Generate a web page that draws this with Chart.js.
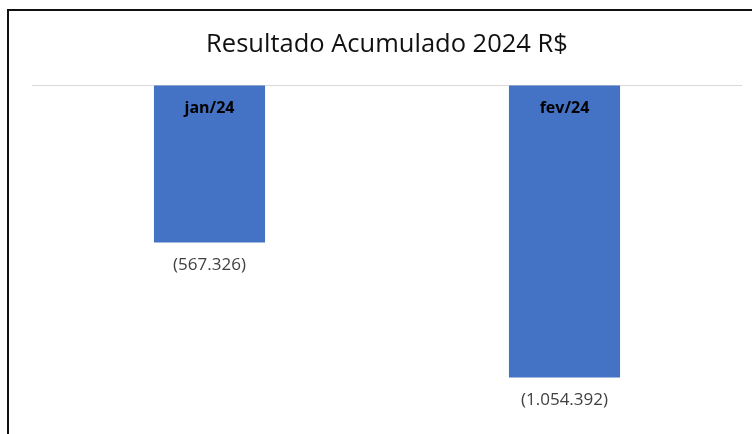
<!DOCTYPE html>
<html>
<head>
<meta charset="utf-8">
<script src="https://cdn.jsdelivr.net/npm/chart.js@4.4.1/dist/chart.umd.min.js"></script>
<style>
  html, body { margin: 0; padding: 0; background: #fff; }
  .wrap { position: relative; width: 752px; height: 434px; }
  .frame {
    position: absolute; left: 7px; top: 9px; right: -4px; bottom: -4px;
    border-top: 2px solid #111; border-left: 2px solid #111;
    pointer-events: none;
  }
</style>
</head>
<body>
<div class="wrap">
  <canvas id="chart" width="752" height="434"></canvas>
  <div class="frame"></div>
</div>
<script>
// chart data
const categories = ['jan/24', 'fev/24'];
const resultValues = [-567326, -1054392];
const chartTitle = 'Resultado Acumulado 2024 R$';

// pt-BR style with parentheses for negatives
const formatValue = (v) => {
  const s = Math.abs(v).toString().replace(/\B(?=(\d{3})+(?!\d))/g, '.');
  return v < 0 ? '(' + s + ')' : s;
};

// draws month names inside the top of each bar and the value under it
const barLabels = {
  id: 'barLabels',
  afterDatasetsDraw(chart) {
    const ctx = chart.ctx;
    const meta = chart.getDatasetMeta(0);
    ctx.save();
    ctx.textAlign = 'center';
    ctx.textBaseline = 'middle';
    meta.data.forEach((bar, i) => {
      ctx.font = 'bold 16px "Open Sans", sans-serif';
      ctx.fillStyle = '#000';
      ctx.fillText(categories[i], bar.x, bar.base + 23);
      ctx.font = '17px "Open Sans", sans-serif';
      ctx.fillStyle = '#404040';
      ctx.fillText(formatValue(resultValues[i]), bar.x, bar.y + 23);
    });
    ctx.restore();
  }
};

new Chart(document.getElementById('chart'), {
  type: 'bar',
  data: {
    labels: categories,
    datasets: [{
      data: resultValues,
      backgroundColor: '#4472C4',
      borderWidth: 0,
      categoryPercentage: 1,
      barPercentage: 0.313,
    }]
  },
  options: {
    responsive: false,
    animation: false,
    layout: { padding: { left: 32, right: 10, top: 0, bottom: 16 } },
    plugins: {
      legend: { display: false },
      tooltip: { enabled: false },
      title: {
        display: true,
        text: chartTitle,
        color: '#111',
        font: { family: '"Open Sans", sans-serif', size: 25.5, weight: 'normal', lineHeight: 1.2 },
        padding: { top: 29, bottom: 25.5 },
      },
    },
    scales: {
      x: { display: false },
      y: {
        min: -1200000,
        max: 0,
        border: { display: false },
        ticks: { display: false },
        grid: {
          drawTicks: false,
          lineWidth: 1,
          color: (c) => (c.tick && c.tick.value === 0 ? '#d9d9d9' : 'rgba(0,0,0,0)'),
        },
      },
    },
  },
  plugins: [barLabels],
});
</script>
</body>
</html>
